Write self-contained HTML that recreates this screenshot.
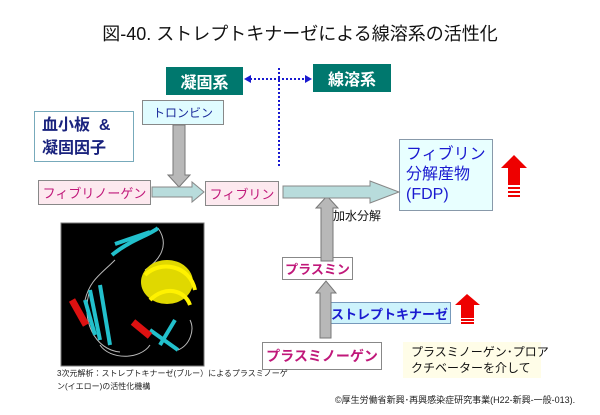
<!DOCTYPE html>
<html><head><meta charset="utf-8"><style>
body{margin:0;width:600px;height:415px;background:#fff;position:relative;overflow:hidden;font-family:"Liberation Sans","Noto Sans CJK JP",sans-serif}
.a{position:absolute;box-sizing:border-box;display:flex;align-items:center;justify-content:center;white-space:nowrap}
.pk{background:#fde9ef;border:1px solid #888;color:#c0187a;font-size:13px}
.wh{background:#fff;border:1px solid #888;color:#c0187a;font-size:13px;font-weight:bold}
.tl{background:#00786e;color:#fff;font-size:16px;font-weight:bold}
</style></head><body>
<div class="a" style="left:100px;top:20px;width:400px;height:26px;font-size:18px;color:#111">図-40. ストレプトキナーゼによる線溶系の活性化</div>
<div class="a tl" style="left:166px;top:67px;width:77px;height:28px">凝固系</div>
<div class="a tl" style="left:313px;top:64px;width:78px;height:28px">線溶系</div>
<div class="a" style="left:142px;top:100px;width:82px;height:25px;background:#e0fcff;border:1px solid #888;color:#1a2a9a;font-size:12px">トロンビン</div>
<div class="a" style="left:34px;top:111px;width:100px;height:51px;border:1px solid #7ab;color:#1a237e;font-size:16px;font-weight:bold;flex-direction:column;align-items:flex-start;padding-left:7px;line-height:23px"><div>血小板&nbsp;&nbsp;&amp;</div><div>凝固因子</div></div>
<div class="a pk" style="left:38px;top:180px;width:113px;height:25px">フィブリノーゲン</div>
<div class="a pk" style="left:205px;top:181px;width:74px;height:25px">フィブリン</div>
<div class="a" style="left:399px;top:139px;width:94px;height:72px;background:#e8ffff;border:1px solid #8899aa;color:#1a1ad0;font-size:16px;flex-direction:column;align-items:flex-start;padding-left:6px;line-height:20px"><div>フィブリン</div><div>分解産物</div><div>(FDP)</div></div>
<div class="a" style="left:333px;top:207px;font-size:12px;color:#111">加水分解</div>
<div class="a wh" style="left:282px;top:257px;width:71px;height:23px">プラスミン</div>
<div class="a" style="left:328px;top:302px;width:123px;height:22px;background:#cdf3fc;border:1px solid #7799bb;color:#1a1ad0;font-size:13px;font-weight:bold">ストレプトキナーゼ</div>
<div class="a wh" style="left:262px;top:342px;width:120px;height:28px;font-size:14px">プラスミノーゲン</div>
<div class="a" style="left:403px;top:342px;width:138px;height:36px;background:#fffde8;color:#111;font-size:12px;flex-direction:column;align-items:flex-start;padding-left:8px;line-height:16px"><div>プラスミノーゲン･プロア</div><div>クチベーターを介して</div></div>
<div class="a" style="left:57px;top:367px;font-size:8px;color:#222;flex-direction:column;align-items:flex-start;line-height:13px"><div>3次元解析：ストレプトキナーゼ(ブルー）によるプラスミノーゲ</div><div>ン(イエロー)の活性化機構</div></div>
<div class="a" style="left:335px;top:393px;font-size:9px;color:#222">©厚生労働省新興･再興感染症研究事業(H22-新興-一般-013).</div>
<svg style="position:absolute;left:0;top:0" width="600" height="415">
<g stroke="#1a1ad0" stroke-width="2" stroke-dasharray="2,2" fill="none">
<line x1="250" y1="79" x2="306" y2="79"/><line x1="279" y1="68" x2="279" y2="167"/></g>
<polygon points="244,79 251,75 251,83" fill="#1a1ad0"/><polygon points="312,79 305,75 305,83" fill="#1a1ad0"/>
<g fill="#b8b8b8" stroke="#777">
<polygon points="173,125 185,125 185,175 190,175 179,187 168,175 173,175"/>
<polygon points="321,261 333,261 333,208 338,208 327,196 316,208 321,208"/>
<polygon points="320,338 331,338 331,293 336,293 326,281 316,293 320,293"/></g>
<g fill="#b8dcdc" stroke="#888">
<polygon points="152,187 192,187 192,182 204,192 192,202 192,197 152,197"/>
<polygon points="283,186 370,186 370,181 399,192 370,203 370,198 283,198"/></g>
<g fill="#ee0000"><polygon points="514,155 527,168 520,168 520,185 508,185 508,168 501,168"/>
<rect x="508" y="187" width="12" height="2"/><rect x="508" y="191" width="12" height="2"/><rect x="508" y="195" width="12" height="2"/>
<polygon points="467,294 480,305 474,305 474,318 461,318 461,305 455,305"/>
<rect x="461" y="319" width="13" height="2"/><rect x="461" y="322" width="13" height="2"/></g>
<rect x="61" y="223" width="143" height="143" fill="#000" stroke="#777"/>
<g fill="none" stroke="#bbb" stroke-width="1">
<path d="M115,260 C100,275 90,280 85,300 M100,345 C110,360 140,360 150,345 M178,350 C190,345 195,330 190,320 M158,228 C170,245 160,260 145,270 M90,290 C80,320 95,350 120,352"/></g>
<g fill="#e0d800">
<ellipse cx="167" cy="282" rx="26" ry="22"/></g>
<g fill="none" stroke-width="4">
<path d="M145,275 C160,260 190,265 195,290" stroke="#fff200"/>
<path d="M150,300 C165,285 185,290 190,305" stroke="#fff200"/>
<path d="M112,255 C130,240 150,235 158,228" stroke="#22c0cc"/>
<path d="M115,244 L150,232" stroke="#22c0cc"/>
<path d="M90,290 L100,340" stroke="#22c0cc"/><path d="M100,285 L110,345" stroke="#22c0cc"/><path d="M85,300 L95,335" stroke="#22c0cc"/>
<path d="M150,330 L178,350" stroke="#22c0cc"/><path d="M160,345 L175,320" stroke="#22c0cc"/>
<path d="M72,300 L86,325" stroke="#dd1111" stroke-width="7"/>
<path d="M133,322 L150,336" stroke="#dd1111" stroke-width="7"/></g>
</svg>
</body></html>
